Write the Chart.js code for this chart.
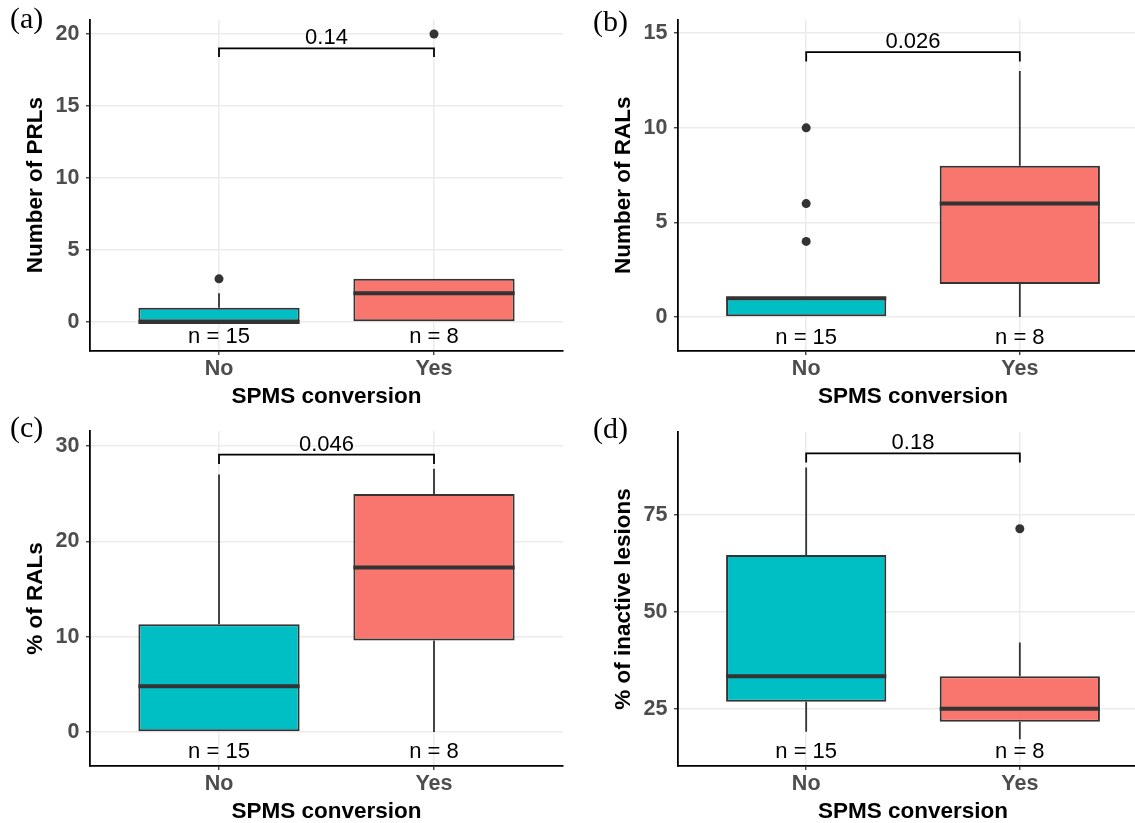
<!DOCTYPE html>
<html>
<head>
<meta charset="utf-8">
<script src="https://cdn.jsdelivr.net/npm/chart.js@4.4.1/dist/chart.umd.min.js"></script>
<style>
  html, body { margin: 0; padding: 0; background: #fff; width: 1135px; height: 823px; overflow: hidden; }
  canvas { position: absolute; }
</style>
</head>
<body>
<canvas id="panelA" width="570" height="411" style="left:0;top:0"></canvas>
<canvas id="panelB" width="600" height="411" style="left:570px;top:0"></canvas>
<canvas id="panelC" width="570" height="415" style="left:0;top:411px"></canvas>
<canvas id="panelD" width="600" height="415" style="left:570px;top:411px"></canvas>
<script>
// groups on the x axis and sample sizes
const groups = ['No', 'Yes'];
const groupN = [15, 8];

// (a) number of PRLs
const prlLow = [0, 0];
const prlQ1 = [0, 0];
const prlMedian = [0, 2];
const prlQ3 = [1, 3];
const prlHigh = [2, 3];
const prlOutliers = [[3], [20]];
const prlTicks = [0, 5, 10, 15, 20];

// (b) number of RALs
const ralLow = [0, 0];
const ralQ1 = [0, 1.75];
const ralMedian = [1, 6];
const ralQ3 = [1, 8];
const ralHigh = [1, 13];
const ralOutliers = [[4, 6, 10], []];
const ralTicks = [0, 5, 10, 15];

// (c) % of RALs
const ralPctLow = [0, 0];
const ralPctQ1 = [0, 9.6];
const ralPctMedian = [4.8, 17.25];
const ralPctQ3 = [11.3, 24.95];
const ralPctHigh = [27.0, 27.6];
const ralPctOutliers = [[], []];
const ralPctTicks = [0, 10, 20, 30];

// (d) % of inactive lesions
const inactLow = [19.05, 17.1];
const inactQ1 = [26.8, 21.6];
const inactMedian = [33.4, 25.0];
const inactQ3 = [64.7, 33.4];
const inactHigh = [87.3, 42.1];
const inactOutliers = [[], [71.5]];
const inactTicks = [25, 50, 75];

const pValues = ['0.14', '0.026', '0.046', '0.18'];

const fills = ['#00BFC4', '#F8766D'];
const dark = '#333333';
Chart.defaults.font.family = "'Liberation Sans', Arial, sans-serif";

function drawPanel(id, opt) {
  const xs = groups.map((g, i) => i + 1);
  const half = 0.375;

  const boxes = xs.map((x, i) => ({ x: x, y: [opt.q1[i], opt.q3[i]] }));
  const whiskers = [];
  const medians = [];
  const points = [];
  xs.forEach((x, i) => {
    whiskers.push({ x: x, y: opt.low[i] }, { x: x, y: opt.q1[i] }, { x: x, y: null });
    whiskers.push({ x: x, y: opt.q3[i] }, { x: x, y: opt.high[i] }, { x: x, y: null });
    medians.push({ x: x - half, y: opt.median[i] }, { x: x + half, y: opt.median[i] }, { x: x, y: null });
    opt.outliers[i].forEach(v => points.push({ x: x, y: v }));
  });
  const bracket = [
    { x: 1, y: opt.bracketLow }, { x: 1, y: opt.bracketY },
    { x: 2, y: opt.bracketY }, { x: 2, y: opt.bracketLow }
  ];

  const textPlugin = {
    id: 'panelText',
    afterDatasetsDraw(chart) {
      const { ctx, scales: { x, y } } = chart;
      ctx.save();
      ctx.fillStyle = '#000';
      ctx.font = "22px 'Liberation Sans', Arial, sans-serif";
      ctx.textAlign = 'center';
      ctx.textBaseline = 'middle';
      groupN.forEach((n, i) => {
        ctx.fillText('n = ' + n, x.getPixelForValue(i + 1), y.getPixelForValue(opt.nY));
      });
      ctx.textBaseline = 'alphabetic';
      ctx.fillText(opt.p, x.getPixelForValue(1.5), y.getPixelForValue(opt.bracketY) - 4);
      ctx.font = "30px 'Liberation Serif', 'Times New Roman', serif";
      ctx.textAlign = 'left';
      ctx.fillText(opt.tag, opt.tagX, opt.tagY);
      ctx.restore();
    }
  };

  const grid = { color: '#EBEBEB', lineWidth: 1.5, tickColor: dark, tickLength: 4, tickWidth: 1.3, offset: false };
  const border = { display: true, color: '#000', width: 1.8 };
  const tickFont = { size: 21.5, weight: 'bold' };
  const titleFont = { size: 22.5, weight: 'bold' };

  new Chart(document.getElementById(id), {
    type: 'bar',
    data: {
      datasets: [
        {
          type: 'bar', data: boxes, backgroundColor: fills, borderColor: dark,
          borderWidth: 2, borderSkipped: false, barPercentage: 0.75, categoryPercentage: 1, order: 2
        },
        {
          type: 'line', data: whiskers, borderColor: dark, borderWidth: 1.8,
          pointRadius: 0, spanGaps: false, order: 3
        },
        {
          type: 'line', data: medians, borderColor: dark, borderWidth: 4,
          pointRadius: 0, spanGaps: false, order: 1
        },
        {
          type: 'scatter', data: points, backgroundColor: dark, borderWidth: 0,
          pointRadius: 4.5, order: 0
        },
        {
          type: 'line', data: bracket, borderColor: '#000', borderWidth: 1.8,
          pointRadius: 0, borderJoinStyle: 'miter', order: 0
        }
      ]
    },
    options: {
      responsive: false,
      animation: false,
      events: [],
      layout: { padding: { left: 0, right: opt.padRight, top: opt.top, bottom: 0 } },
      plugins: { legend: { display: false }, tooltip: { enabled: false } },
      scales: {
        x: {
          type: 'linear', min: 0.4, max: 2.6, offset: false,
          afterBuildTicks: s => { s.ticks = xs.map(v => ({ value: v })); },
          afterFit: s => { s.height = 60; },
          ticks: {
            callback: v => groups[v - 1], color: '#4D4D4D', font: tickFont,
            padding: 1.5, maxRotation: 0, autoSkip: false
          },
          grid: grid,
          border: border,
          title: {
            display: true, text: 'SPMS conversion', color: '#000', font: titleFont,
            padding: { top: 0, bottom: 1 }
          }
        },
        y: {
          type: 'linear', min: opt.yMin, max: opt.yMax,
          afterBuildTicks: s => { s.ticks = opt.ticks.map(v => ({ value: v })); },
          afterFit: s => { s.width = opt.left; },
          ticks: { color: '#4D4D4D', font: tickFont, padding: 6.5 },
          grid: grid,
          border: border,
          title: {
            display: true, text: opt.yTitle, color: '#000', font: titleFont,
            padding: { top: opt.left - 54 - 13.5, bottom: 0 }
          }
        }
      }
    },
    plugins: [textPlugin]
  });
}

drawPanel('panelA', {
  low: prlLow, q1: prlQ1, median: prlMedian, q3: prlQ3, high: prlHigh, outliers: prlOutliers,
  ticks: prlTicks, yMin: -2.01, yMax: 21.01, yTitle: 'Number of PRLs', p: pValues[0],
  bracketY: 19, bracketLow: 18.4, nY: -1.05,
  left: 90, top: 16, padRight: 7, tag: '(a)', tagX: 10, tagY: 28
});

drawPanel('panelB', {
  low: ralLow, q1: ralQ1, median: ralMedian, q3: ralQ3, high: ralHigh, outliers: ralOutliers,
  ticks: ralTicks, yMin: -1.79, yMax: 15.73, yTitle: 'Number of RALs', p: pValues[1],
  bracketY: 14, bracketLow: 13.5, nY: -1.08,
  left: 108, top: 16, padRight: 22, tag: '(b)', tagX: 23, tagY: 31
});

drawPanel('panelC', {
  low: ralPctLow, q1: ralPctQ1, median: ralPctMedian, q3: ralPctQ3, high: ralPctHigh, outliers: ralPctOutliers,
  ticks: ralPctTicks, yMin: -3.57, yMax: 31.57, yTitle: '% of RALs', p: pValues[2],
  bracketY: 29.1, bracketLow: 28.1, nY: -2.07,
  left: 90, top: 20, padRight: 7, tag: '(c)', tagX: 10, tagY: 26
});

drawPanel('panelD', {
  low: inactLow, q1: inactQ1, median: inactMedian, q3: inactQ3, high: inactHigh, outliers: inactOutliers,
  ticks: inactTicks, yMin: 10.19, yMax: 96.5, yTitle: '% of inactive lesions', p: pValues[3],
  bracketY: 91, bracketLow: 88.6, nY: 13.9,
  left: 108, top: 21, padRight: 22, tag: '(d)', tagX: 23, tagY: 27
});
</script>
</body>
</html>
